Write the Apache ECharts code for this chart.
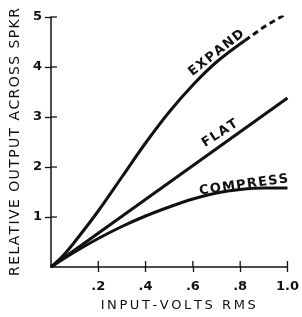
<!DOCTYPE html>
<html lang="en">
<head>
    <meta charset="UTF-8">
    <title>Expand / Flat / Compress</title>
    <script src="https://cdn.jsdelivr.net/npm/echarts@6/dist/echarts.min.js"></script>
    <style>
        html, body { margin: 0; padding: 0; background: #fff; }
        #main { width: 302px; height: 317px; }
    </style>
</head>
<body>
<div id="main"></div>
<script type="text/javascript">
    // data
    var expandX = [0, 0.05, 0.1, 0.2, 0.3, 0.4, 0.5, 0.6, 0.7, 0.82];
    var expandY = [0, 0.22, 0.5, 1.12, 1.8, 2.48, 3.1, 3.64, 4.1, 4.53];
    var expandDashX = [0.82, 0.9, 1.0];
    var expandDashY = [4.53, 4.8, 5.08];
    var flatX = [0, 1.0];
    var flatY = [0, 3.38];
    var compressX = [0, 0.1, 0.2, 0.3, 0.4, 0.5, 0.6, 0.7, 0.8, 0.9, 1.0];
    var compressY = [0, 0.3, 0.57, 0.81, 1.02, 1.2, 1.36, 1.48, 1.55, 1.58, 1.58];

    var xTicks = [0.2, 0.4, 0.6, 0.8, 1.0];
    var xTickLabels = ['.2', '.4', '.6', '.8', '1.0'];
    var yTicks = [1, 2, 3, 4, 5];
    var yTickLabels = ['1', '2', '3', '4', '5'];

    // curve captions: [text, x, y, angle]
    var captions = [
        ['EXPAND', 0.70, 4.28, 38],
        ['FLAT', 0.714, 2.67, 33],
        ['COMPRESS', 0.815, 1.64, 8]
    ];

    function pairs(xs, ys) {
        var out = [];
        for (var i = 0; i < xs.length; i++) out.push([xs[i], ys[i]]);
        return out;
    }
    function tickLabel(vals, labels) {
        return function (v) {
            for (var i = 0; i < vals.length; i++) {
                if (Math.abs(vals[i] - v) < 1e-6) return labels[i];
            }
            return '';
        };
    }
    // the lettering in the original is widely spaced
    function spaced(s, gap) {
        return s.split('').join(gap);
    }

    var ink = '#111';
    var font = 'DejaVu Sans';
    var THIN = '\u2009', HAIR = '\u200A';

    var myChart = echarts.init(document.getElementById('main'));

    var lineBase = {
        type: 'line',
        smooth: 0.35,
        showSymbol: false,
        symbol: 'none',
        silent: true
    };
    var tickStyle = { color: ink, width: 1.3 };

    myChart.setOption({
        animation: false,
        backgroundColor: '#fff',
        grid: { left: 45, right: 9, top: 17, bottom: 50 },
        xAxis: {
            type: 'value', min: 0, max: 1, interval: 0.2,
            axisLine: { onZero: false, lineStyle: { color: ink, width: 1.5 } },
            axisTick: { show: true, inside: false, length: 5, customValues: xTicks, lineStyle: tickStyle },
            axisLabel: { customValues: xTicks, formatter: tickLabel(xTicks, xTickLabels),
                margin: 13, color: ink, fontFamily: font, fontSize: 13, fontWeight: 'bold' },
            splitLine: { show: false },
            name: spaced('INPUT-VOLTS RMS', THIN), nameLocation: 'middle', nameGap: 32,
            nameTextStyle: { color: ink, fontFamily: font, fontSize: 13, padding: [0, 0, 0, 18] }
        },
        yAxis: {
            type: 'value', min: 0, max: 5, interval: 1,
            axisLine: { onZero: false, lineStyle: { color: ink, width: 1.5 } },
            axisTick: { show: true, inside: false, length: 6, customValues: yTicks, lineStyle: tickStyle },
            axisLabel: { customValues: yTicks, formatter: tickLabel(yTicks, yTickLabels),
                margin: 9, color: ink, fontFamily: font, fontSize: 13, fontWeight: 'bold' },
            splitLine: { show: false },
            name: spaced('RELATIVE OUTPUT ACROSS SPKR', HAIR), nameLocation: 'middle', nameGap: 24,
            nameRotate: 90,
            nameTextStyle: { color: ink, fontFamily: font, fontSize: 14, padding: [0, 0, 3, 0] }
        },
        series: [
            Object.assign({}, lineBase, { name: 'EXPAND', data: pairs(expandX, expandY),
                lineStyle: { color: ink, width: 3 } }),
            Object.assign({}, lineBase, { name: 'EXPAND (ext)', smooth: false, data: pairs(expandDashX, expandDashY),
                lineStyle: { color: ink, width: 3, type: [6, 4] } }),
            Object.assign({}, lineBase, { name: 'FLAT', smooth: false, data: pairs(flatX, flatY),
                lineStyle: { color: ink, width: 3 } }),
            Object.assign({}, lineBase, { name: 'COMPRESS', data: pairs(compressX, compressY),
                lineStyle: { color: ink, width: 3 } })
        ]
    });

    var graphics = [];
    // ticks in the original cross the axis: the axis draws the outer half,
    // the inner half is added here at the same values
    xTicks.forEach(function (v) {
        var p = myChart.convertToPixel({ gridIndex: 0 }, [v, 0]);
        graphics.push({ type: 'line', z: 10, silent: true,
            shape: { x1: p[0], y1: p[1], x2: p[0], y2: p[1] - 6 },
            style: { stroke: ink, lineWidth: 1.3 } });
    });
    yTicks.forEach(function (v) {
        var p = myChart.convertToPixel({ gridIndex: 0 }, [0, v]);
        graphics.push({ type: 'line', z: 10, silent: true,
            shape: { x1: p[0], y1: p[1], x2: p[0] + 6, y2: p[1] },
            style: { stroke: ink, lineWidth: 1.3 } });
    });
    // captions placed through the chart's own coordinate system
    captions.forEach(function (c) {
        var p = myChart.convertToPixel({ gridIndex: 0 }, [c[1], c[2]]);
        graphics.push({
            type: 'text', x: p[0], y: p[1], rotation: c[3] * Math.PI / 180,
            style: { text: spaced(c[0], HAIR), fill: ink, font: 'bold 13px "' + font + '"',
                align: 'center', verticalAlign: 'middle' }
        });
    });
    myChart.setOption({ graphic: graphics });
</script>
</body>
</html>
